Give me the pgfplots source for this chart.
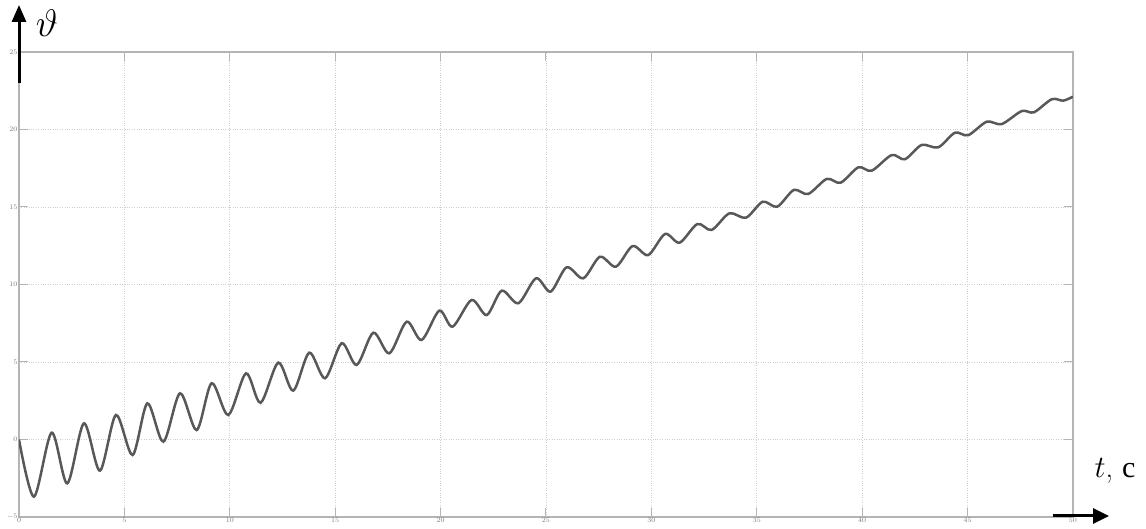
\documentclass[border=0pt]{standalone}
\usepackage{fontspec}
\usepackage{pgfplots}
\pgfplotsset{compat=1.18}
\usetikzlibrary{arrows.meta}
\newfontfamily\cyr{Liberation Serif}
\definecolor{curve}{HTML}{585858}
\definecolor{frame}{HTML}{B4B4B4}
\definecolor{gridc}{HTML}{CFCFCF}
\definecolor{lbl}{HTML}{7A7A7A}
\begin{document}
\begin{tikzpicture}[x=1pt,y=1pt]
\useasboundingbox (0,0) rectangle (1146,529);
\begin{axis}[
  at={(19pt,12pt)}, anchor=south west,
  width=1054pt, height=465pt, scale only axis,
  xmin=0, xmax=50, ymin=-5, ymax=25,
  xtick={0,5,...,50}, ytick={-5,0,...,25},
  grid=major,
  major grid style={gridc, dotted, line width=0.9pt},
  axis line style={frame, line width=1.5pt},
  tick style={frame, line width=1pt},
  major tick length=9pt,
  tick align=inside,
  ticklabel style={font=\fontsize{7}{8}\selectfont, text=lbl},
  xticklabel style={inner sep=1pt},
  yticklabel style={inner sep=1.5pt},
]
\addplot[curve, line width=2.5pt, smooth] coordinates {
(0,0) (0.71,-3.69) (1.55,0.44) (2.29,-2.83) (3.08,1.04) (3.84,-2.01)
(4.60,1.58) (5.39,-1.00) (6.09,2.33) (6.85,-0.14) (7.64,2.98) (8.43,0.61)
(9.14,3.63) (9.93,1.58) (10.77,4.27) (11.46,2.37) (12.30,4.96) (13.01,3.15)
(13.77,5.60) (14.52,3.95) (15.31,6.21) (16.02,4.81) (16.81,6.89) (17.57,5.56)
(18.39,7.60) (19.10,6.42) (19.94,8.31) (20.57,7.28) (21.47,9.00) (22.19,8.03)
(22.90,9.60) (23.69,8.79) (24.53,10.40) (25.22,9.54) (25.98,11.11) (26.77,10.40)
(27.56,11.79) (28.32,11.15) (29.11,12.48) (29.85,11.90) (30.65,13.26) (31.34,12.70)
(32.18,13.90) (32.86,13.52) (33.70,14.59) (34.49,14.31) (35.28,15.34) (35.97,15.02)
(36.76,16.10) (37.44,15.84) (38.32,16.81) (38.98,16.57) (39.82,17.56) (40.45,17.34)
(41.40,18.35) (42.03,18.08) (42.82,19.00) (43.61,18.85) (44.40,19.79) (45.03,19.63)
(45.91,20.50) (46.62,20.35) (47.57,21.19) (48.15,21.11) (48.99,21.95) (49.54,21.86)
(50,22.12)
};
\end{axis}
\draw[black, line width=3pt, -{Stealth[length=17pt, width=14pt, inset=0pt]}] (19,446) -- (19,524);
\draw[black, line width=3pt, -{Stealth[length=16pt, width=15pt, inset=0pt]}] (1053,13) -- (1109,13);
\node[scale=1.85] at (47,506) {\fontsize{20}{22}\selectfont$\vartheta$};
\node[scale=1.5] at (1115,58) {\fontsize{20}{22}\selectfont$t$, {\cyr с}};
\end{tikzpicture}
\end{document}
